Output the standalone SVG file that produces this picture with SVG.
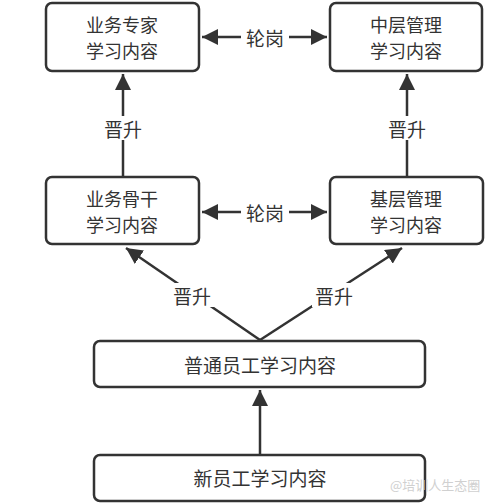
<svg xmlns="http://www.w3.org/2000/svg" width="500" height="503" viewBox="0 0 500 503">
<style>
.box{fill:#fff;stroke:#333;stroke-width:2.5}
.t{font-family:"Noto Sans CJK SC","Noto Sans",sans-serif;font-size:19px;fill:#333;text-anchor:middle;dominant-baseline:central}
.t2{font-size:18px}
.ln{stroke:#333;stroke-width:2.5;fill:none}
.lb{fill:#fff}
.wm{font-family:"Noto Sans CJK SC",sans-serif;font-size:13px;fill:#d0d0d0}
</style>
<defs>
<marker id="ah" viewBox="0 0 10 10" refX="10" refY="5" markerWidth="6.5" markerHeight="6.5" orient="auto-start-reverse" markerUnits="strokeWidth">
<path d="M0,0 L10,5 L0,10 Z" fill="#333"/>
</marker>
</defs>
<g id="connectors">
<line class="ln" x1="202" y1="37" x2="327" y2="37" marker-start="url(#ah)" marker-end="url(#ah)"/>
<rect class="lb" x="241" y="25" width="48" height="24"/>
<text class="t" x="265" y="37">轮岗</text>
<line class="ln" x1="202" y1="212" x2="327" y2="212" marker-start="url(#ah)" marker-end="url(#ah)"/>
<rect class="lb" x="241" y="200" width="48" height="24"/>
<text class="t" x="265" y="212">轮岗</text>
<line class="ln" x1="123" y1="176" x2="123" y2="74" marker-end="url(#ah)"/>
<rect class="lb" x="101" y="116" width="44" height="24"/>
<text class="t" x="123" y="128">晋升</text>
<line class="ln" x1="407" y1="176" x2="407" y2="74" marker-end="url(#ah)"/>
<rect class="lb" x="385" y="116" width="44" height="24"/>
<text class="t" x="407" y="128">晋升</text>
<line class="ln" x1="260" y1="340" x2="126" y2="248" marker-end="url(#ah)"/>
<rect class="lb" x="170" y="283" width="44" height="24"/>
<text class="t" x="192" y="295">晋升</text>
<line class="ln" x1="260" y1="340" x2="402" y2="248" marker-end="url(#ah)"/>
<rect class="lb" x="312" y="283" width="44" height="24"/>
<text class="t" x="334" y="295">晋升</text>
<line class="ln" x1="260" y1="454" x2="260" y2="390" marker-end="url(#ah)"/>
</g>
<g id="n1">
<rect class="box" x="46" y="3" width="153" height="68" rx="6"/>
<text class="t t2" x="122" y="24">业务专家</text>
<text class="t t2" x="122" y="50">学习内容</text>
</g>
<g id="n2">
<rect class="box" x="330" y="3" width="152" height="68" rx="6"/>
<text class="t t2" x="406" y="24">中层管理</text>
<text class="t t2" x="406" y="50">学习内容</text>
</g>
<g id="n3">
<rect class="box" x="46" y="177" width="153" height="67" rx="6"/>
<text class="t t2" x="122" y="198">业务骨干</text>
<text class="t t2" x="122" y="224">学习内容</text>
</g>
<g id="n4">
<rect class="box" x="330" y="177" width="153" height="67" rx="6"/>
<text class="t t2" x="406" y="198">基层管理</text>
<text class="t t2" x="406" y="224">学习内容</text>
</g>
<g id="n5">
<rect class="box" x="94" y="341" width="331" height="46" rx="6"/>
<text class="t" x="260" y="364">普通员工学习内容</text>
</g>
<g id="n6">
<rect class="box" x="94" y="455" width="331" height="46" rx="6"/>
<text class="t" x="260" y="477">新员工学习内容</text>
</g>
<text class="wm" x="390" y="490">@培训人生态圈</text>
</svg>
